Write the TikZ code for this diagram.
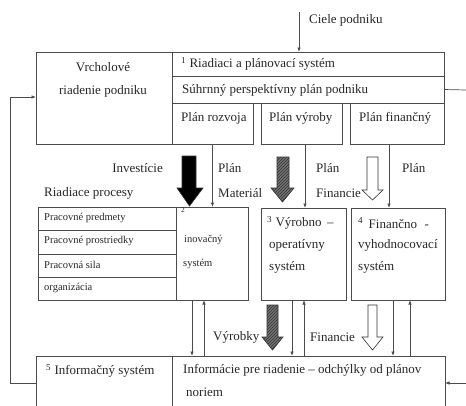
\documentclass[tikz,border=0pt]{standalone}
\usepackage{fontspec}
\setmainfont{Liberation Serif}
\usetikzlibrary{arrows.meta,patterns}
\begin{document}
\begin{tikzpicture}[x=1pt,y=-1pt,
  box/.style={draw=black!70, line width=0.8pt, inner sep=0pt, outer sep=0pt, anchor=north west},
  txt/.style={inner sep=0pt, anchor=west, font=\fontsize{13}{15}\selectfont, text=black!85},
  stxt/.style={inner sep=0pt, anchor=west, font=\fontsize{10.5}{12}\selectfont, text=black!85},
  con/.style={draw=black!70, line width=0.7pt},
  arr/.style={con, -{Latex[length=4.5pt,width=3.5pt]}},
  blk/.style={draw=black!80, line width=0.6pt},
  hatch/.style={blk, fill=black!55, postaction={pattern=north east lines, pattern color=black!80}}]
\useasboundingbox (0,0) rectangle (466,405);

% ---------- top block ----------
\node[box, minimum width=136pt, minimum height=92pt] (vr) at (36,52) {};
\node[box, minimum width=272pt, minimum height=24pt] (r1) at (172,52) {};
\node[box, minimum width=272pt, minimum height=27pt] (r2) at (172,76) {};
\node[box, minimum width=81pt, minimum height=41pt] (p1) at (172,103) {};
\node[box, minimum width=81pt, minimum height=41pt] (p2) at (261,103) {};
\node[box, minimum width=94pt, minimum height=41pt] (p3) at (350,103) {};

\node[txt, anchor=center] (t1) at (103,67) {Vrcholové};
\node[txt, anchor=center] (t2) at (103,91) {riadenie podniku};
\node[txt] (t3) at (181,64) {\textsuperscript{1} Riadiaci a plánovací systém};
\node[txt] (t4) at (182,90) {Súhrnný perspektívny plán podniku};
\node[txt] (t5) at (181,118) {Plán rozvoja};
\node[txt] (t6) at (269,118) {Plán výroby};
\node[txt] (t7) at (359,118) {Plán finančný};

% goals
\coordinate (cg) at (299,12);
\draw[arr] (cg) -- (cg |- r1.north);
\node[txt] (ciele) at (309,20) {Ciele podniku};
% right exit
\coordinate (rx) at (466,90);
\draw[con] (r2.east) -- (rx);

% ---------- middle block ----------
\node[box, minimum width=210pt, minimum height=93pt] (inov) at (38,207) {};
\node[box, minimum width=138pt, minimum height=23pt] (a1) at (38,207) {};
\node[box, minimum width=138pt, minimum height=24pt] (a2) at (38,230) {};
\node[box, minimum width=138pt, minimum height=23pt] (a3) at (38,254) {};
\node[box, minimum width=138pt, minimum height=23pt] (a4) at (38,277) {};
\node[box, minimum width=85pt, minimum height=92pt] (vo) at (261,208) {};
\node[box, minimum width=94pt, minimum height=92pt] (fv) at (351,208) {};

\node[stxt] (s1) at (44,218) {Pracovné predmety};
\node[stxt] (s2) at (44,241) {Pracovné prostriedky};
\node[stxt] (s3) at (44,265) {Pracovná sila};
\node[stxt] (s4) at (44,288) {organizácia};
\node[stxt] (s5) at (181,212) {\textsuperscript{2}};
\node[stxt] (s6) at (184,240) {inovačný};
\node[stxt] (s7) at (183,264) {systém};

\node[txt] (v1) at (267,223) {\textsuperscript{3} Výrobno \,–};
\node[txt] (v2) at (269,245) {operatívny};
\node[txt] (v3) at (269,267) {systém};
\node[txt] (f1) at (358,223) {\textsuperscript{4}\, Finančno \,\,-};
\node[txt] (f2) at (358,245) {vyhodnocovací};
\node[txt] (f3) at (358,267) {systém};

\node[txt, anchor=east] (inv) at (163,168) {Investície};
\node[txt] (rp) at (44,193) {Riadiace procesy};
\node[txt] (pl1) at (218,168) {Plán};
\node[txt] (mat) at (218,193) {Materiál};
\node[txt] (pl2) at (316,168) {Plán};
\node[txt] (fin1) at (316,193) {Financie};
\node[txt] (pl3) at (402,168) {Plán};

% plan connectors
\draw[arr] (p1.south) -- (p1.south |- inov.north);
\coordinate (q2) at (305,144);
\draw[arr] (q2) -- (q2 |- vo.north);
\coordinate (q3) at (389,144);
\draw[arr] (q3) -- (q3 |- fv.north);

% block arrows (top)
\draw[blk, fill=black] (182,156) -- (196,156) -- (196,188) -- (203,188) -- (189.5,206) -- (177,188) -- (182,188) -- cycle;
\draw[hatch] (277,157) -- (289,157) -- (289,188) -- (294,188) -- (282.5,202) -- (271,188) -- (277,188) -- cycle;
\draw[blk, fill=white] (367,157) -- (378,157) -- (378,190) -- (383,190) -- (372.5,200) -- (362,190) -- (367,190) -- cycle;

% ---------- bottom block ----------
\node[box, minimum width=409pt, minimum height=54pt] (bot) at (36,356) {};
\draw[con, line width=0.8pt] (172,356) -- (172,410);
\node[txt] (b1) at (46,371) {\textsuperscript{5} Informačný systém};
\node[txt] (b2) at (183,370) {Informácie pre riadenie – odchýlky od plánov};
\node[txt] (b3) at (186,392) {noriem};

% lower connectors
\coordinate (d1) at (192,300);
\draw[arr] (d1) -- (d1 |- bot.north);
\coordinate (u1) at (204,356);
\draw[arr] (u1) -- (u1 |- inov.south);
\coordinate (d2) at (292,300);
\draw[arr] (d2) -- (d2 |- bot.north);
\coordinate (u2) at (304,356);
\draw[arr] (u2) -- (u2 |- vo.south);
\coordinate (d3) at (393,300);
\draw[arr] (d3) -- (d3 |- bot.north);
\coordinate (u3) at (410,356);
\draw[arr] (u3) -- (u3 |- fv.south);

\draw[hatch] (267,305) -- (278,305) -- (278,337) -- (283,337) -- (272.5,350) -- (262,337) -- (267,337) -- cycle;
\draw[blk, fill=white] (368,305) -- (377,305) -- (377,337) -- (383,337) -- (372.5,350) -- (362,337) -- (368,337) -- cycle;
\node[txt] (vyr) at (213,337) {Výrobky};
\node[txt] (fin2) at (310,337) {Financie};

% feedback loops
\coordinate (lf) at (10,383);
\draw[arr] (bot.west |- lf) -- (lf) -- (lf |- 0,97) -- (vr.west |- 0,97);
\coordinate (rin) at (466,383);
\draw[arr] (rin) -- (bot.east |- rin);
\end{tikzpicture}
\end{document}
